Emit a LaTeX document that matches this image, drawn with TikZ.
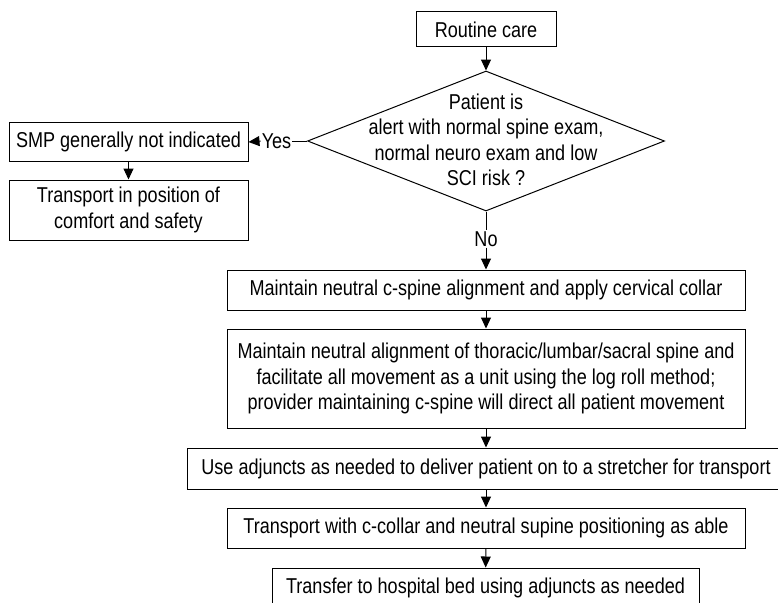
\documentclass[tikz,border=0pt]{standalone}
\usepackage{fontspec}
\setmainfont{Liberation Sans}[FakeStretch=0.84]
\usetikzlibrary{arrows.meta,shapes.geometric}
\begin{document}
\begin{tikzpicture}[x=1pt,y=-1pt,
  every node/.style={font=\fontsize{21.5pt}{25.5pt}\selectfont},
  box/.style={draw,line width=1pt,inner sep=0pt,align=center},
  lab/.style={inner sep=1pt},
  line/.style={line width=1pt},
  arr/.style={line width=1pt,-{Triangle[length=11pt,width=10pt]}}]
\useasboundingbox (0,0) rectangle (778,602);
\clip (0,0) rectangle (778,602);
\node[box,minimum width=140pt,minimum height=35pt] (routine) at (486,29.5) {Routine care};
\node[diamond,draw,line width=1pt,inner sep=0pt,minimum width=357pt,minimum height=140pt] (dec) at (486,141) {};
\node[align=center,inner sep=0pt] (dectext) at (486,140) {Patient is\\alert with normal spine exam,\\normal neuro exam and low\\SCI risk ?};
\node[box,minimum width=239pt,minimum height=39pt] (smp) at (128.5,142) {SMP generally not indicated};
\node[box,minimum width=239pt,minimum height=60pt] (comfort) at (128.5,210) {Transport in position of\\comfort and safety};
\node[lab] (yes) at (276.5,141) {Yes};
\node[lab] (no) at (486,239) {No};
\node[box,minimum width=518pt,minimum height=40pt] (b1) at (486,290) {Maintain neutral c-spine alignment and apply cervical collar};
\node[box,minimum width=518pt,minimum height=99pt] (b2) at (486,378.5) {Maintain neutral alignment of thoracic/lumbar/sacral spine and\\facilitate all movement as a unit using the log roll method;\\provider maintaining c-spine will direct all patient movement};
\node[box,minimum width=598pt,minimum height=41pt] (b3) at (486,468.5) {Use adjuncts as needed to deliver patient on to a stretcher for transport};
\node[box,minimum width=518pt,minimum height=40pt] (b4) at (486,528) {Transport with c-collar and neutral supine positioning as able};
\node[box,minimum width=427pt,minimum height=40pt] (b5) at (485.5,588) {Transfer to hospital bed using adjuncts as needed};
\draw[arr] (routine) -- (dec.north);
\draw[line] (dec.west) -- (yes.east);
\draw[arr] (yes.west) -- (smp.east);
\draw[arr] (smp) -- (comfort);
\draw[line] (dec.south) -- (no.north);
\draw[arr] (no.south) -- (b1.north);
\draw[arr] (b1) -- (b2);
\draw[arr] (b2) -- (b3);
\draw[arr] (b3) -- (b4);
\draw[arr] (b4) -- (b5);
\end{tikzpicture}
\end{document}
